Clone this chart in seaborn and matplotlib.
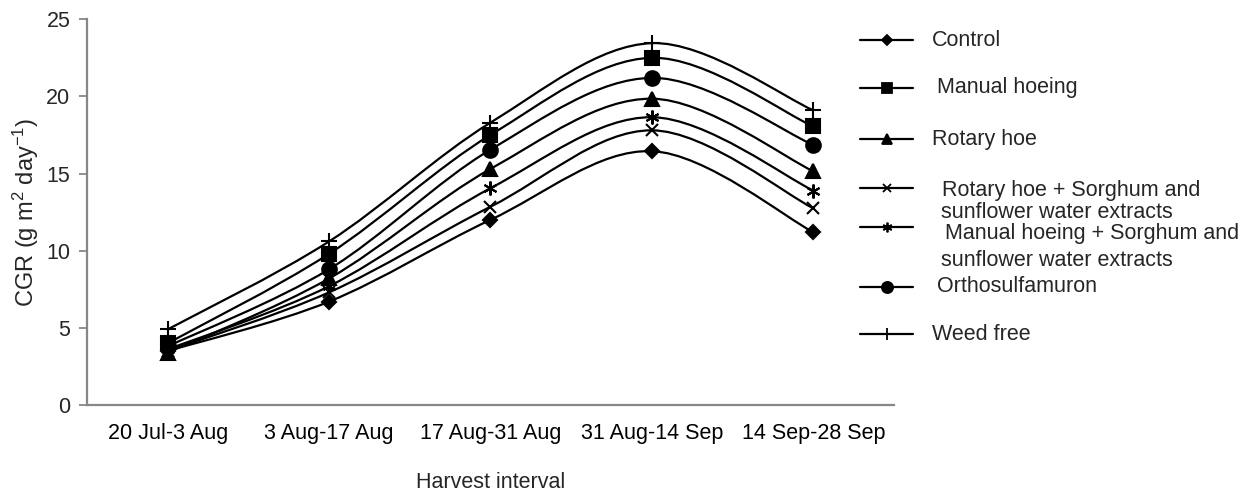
import numpy as np
import pandas as pd
import matplotlib
matplotlib.use("Agg")
from matplotlib import pyplot as plt
from matplotlib.path import Path
from matplotlib.patches import PathPatch
from matplotlib.lines import Line2D
import seaborn as sns

# ===================================================================
# Crop growth rate per harvest interval
# ===================================================================
intervals = ['20 Jul-3 Aug', '3 Aug-17 Aug', '17 Aug-31 Aug', '31 Aug-14 Sep', '14 Sep-28 Sep']

control = [3.5, 6.7, 12.0, 16.45, 11.2]
manual_hoeing = [4.0, 9.8, 17.5, 22.5, 18.05]
rotary_hoe = [3.4, 8.2, 15.3, 19.85, 15.15]
rotary_extracts = [3.5, 7.3, 12.85, 17.8, 12.75]
manual_extracts = [3.6, 7.7, 14.05, 18.65, 13.9]
orthosulfamuron = [3.8, 8.8, 16.55, 21.2, 16.85]
weed_free = [4.9, 10.6, 18.3, 23.45, 19.1]

labels = ['Control', 'Manual hoeing', 'Rotary hoe',
          'Rotary hoe + Sorghum and\nsunflower water extracts',
          'Manual hoeing + Sorghum and\nsunflower water extracts',
          'Orthosulfamuron', 'Weed free']
series = [control, manual_hoeing, rotary_hoe, rotary_extracts,
          manual_extracts, orthosulfamuron, weed_free]

# marker, size on plot, size in legend
styles = [('D', 7.5, 5), ('s', 9.5, 7), ('^', 10, 7.5), ('x', 8.5, 6),
          ((6, 2, 0), 10, 7), ('o', 10.5, 8), ('+', 12, 9)]


def smooth_path(xs, ys):
    # excel style smoothed line: cubic bezier through every point
    pts = np.column_stack([xs, ys]).astype(float)
    ext = np.vstack([pts[0], pts, pts[-1]])
    verts = [pts[0]]
    codes = [Path.MOVETO]
    for i in range(1, len(ext) - 2):
        p0, p1, p2, p3 = ext[i - 1], ext[i], ext[i + 1], ext[i + 2]
        verts += [p1 + (p2 - p0) / 6, p2 - (p3 - p1) / 6, p2]
        codes += [Path.CURVE4] * 3
    return Path(verts, codes)


sns.set_style("white")
plt.rcParams['font.family'] = ['Liberation Sans', 'DejaVu Sans']
plt.rcParams['mathtext.default'] = 'regular'

fig = plt.figure(figsize=(12.5, 4.93), dpi=100)
ax = fig.add_axes([0.0696, 0.1785, 0.6456, 0.7825])

pos = np.arange(len(intervals))
for vals, (m, ms, _) in zip(series, styles):
    ax.add_patch(PathPatch(smooth_path(pos, vals), fill=False, edgecolor='black', lw=1.6, zorder=2))
    df = pd.DataFrame({'x': pos, 'y': vals})
    sns.lineplot(x='x', y='y', data=df, ax=ax, color='black', linestyle='', marker=m,
                 markersize=ms, markeredgewidth=1.5, markeredgecolor='black', zorder=3)

gray = '#878787'
ax.set_xlim(-0.5, len(intervals) - 0.5)
ax.set_ylim(0, 25)
ax.set_yticks(range(0, 26, 5))
ax.set_xticks(pos)
ax.set_xticklabels(intervals)
ax.set_xticks(np.arange(-0.5, len(intervals), 1), minor=True)
ax.tick_params(axis='x', which='major', length=0, pad=13, labelsize=15.5, colors='black')
ax.tick_params(axis='x', which='minor', length=5, width=1.3, color=gray, direction='out')
ax.tick_params(axis='y', length=6, width=1.3, color=gray, direction='out', labelsize=15.5, pad=6)
ax.tick_params(bottom=True, left=True)
sns.despine(ax=ax)
for s in ['left', 'bottom']:
    ax.spines[s].set_color(gray)
    ax.spines[s].set_linewidth(1.6)

ax.set_xlabel('Harvest interval', fontsize=15.5, labelpad=20)
ax.set_ylabel(r'CGR (g m$^{2}$ day$^{-1}$)', fontsize=17, labelpad=4)

# legend drawn by hand, excel places the entries unevenly
handle_y = [40, 88, 139, 188, 227, 287, 334]
text_y = [[40], [88], [139], [190, 213], [233, 261], [287], [335]]
text_x = [932, 937, 932, 942, 945, 937, 932]
H = 493.0
for lab, (m, _, lms), hy, ty, tx in zip(labels, styles, handle_y, text_y, text_x):
    fig.add_artist(Line2D([860 / 1250, 913 / 1250], [1 - hy / H] * 2, color='black', lw=1.6,
                          transform=fig.transFigure))
    fig.add_artist(Line2D([886.5 / 1250], [1 - hy / H], color='black', linestyle='', marker=m,
                          markersize=lms, markeredgewidth=1.3, transform=fig.transFigure))
    for k, line in enumerate(lab.split('\n')):
        x0 = tx if k == 0 else 941
        fig.text(x0 / 1250, 1 - ty[k] / H, line, fontsize=15.5, va='center', ha='left')

plt.savefig('out.png', dpi=100)
